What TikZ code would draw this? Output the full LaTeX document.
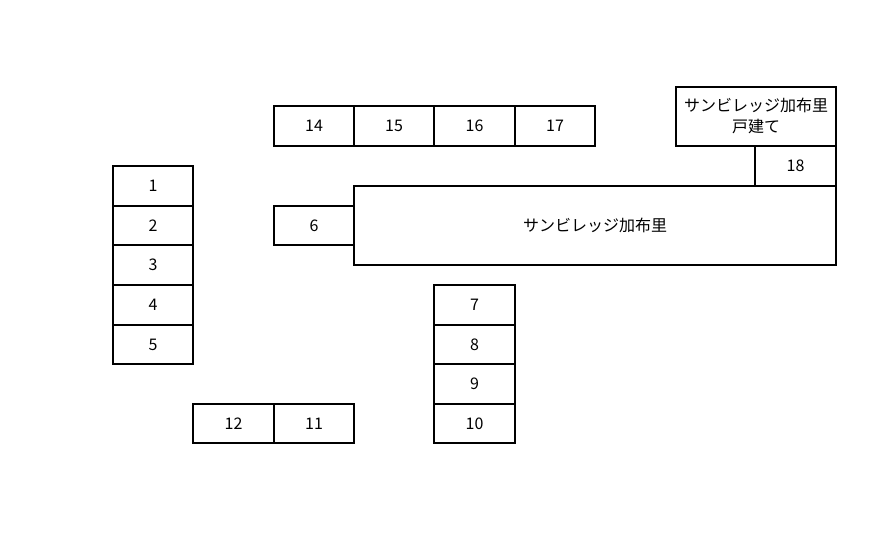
\documentclass[tikz,border=0pt]{standalone}
\usepackage{fontspec}
\setmainfont{Noto Sans CJK JP}
\begin{document}
\begin{tikzpicture}[x=1pt,y=-1pt,font=\fontsize{16}{21}\selectfont,
  cell/.style={draw,line width=1.3pt}]
\useasboundingbox (0,0) rectangle (895,540);
\newcommand{\cellbox}[6]{\draw[cell] (#2,#3) rectangle (#4,#5); \node (#1) at ({(#2+#4)/2},{(#3+#5)/2}) {#6};}
\cellbox{c1}{113}{166}{193}{206}{1}
\cellbox{c2}{113}{206}{193}{245}{2}
\cellbox{c3}{113}{245}{193}{285}{3}
\cellbox{c4}{113}{285}{193}{325}{4}
\cellbox{c5}{113}{325}{193}{364}{5}
\cellbox{c14}{274}{106}{354}{146}{14}
\cellbox{c15}{354}{106}{434}{146}{15}
\cellbox{c16}{434}{106}{515}{146}{16}
\cellbox{c17}{515}{106}{595}{146}{17}
\cellbox{c6}{274}{206}{354}{245}{6}
\cellbox{big}{354}{186}{836}{265}{サンビレッジ加布里}
\cellbox{c18}{755}{146}{836}{186}{18}
\draw[cell] (676,87) rectangle (836,146);
\node[align=center] (top) at (756,116) {サンビレッジ加布里\\戸建て};
\cellbox{c7}{434}{285}{515}{325}{7}
\cellbox{c8}{434}{325}{515}{364}{8}
\cellbox{c9}{434}{364}{515}{404}{9}
\cellbox{c10}{434}{404}{515}{443}{10}
\cellbox{c12}{193}{404}{274}{443}{12}
\cellbox{c11}{274}{404}{354}{443}{11}
\end{tikzpicture}
\end{document}
